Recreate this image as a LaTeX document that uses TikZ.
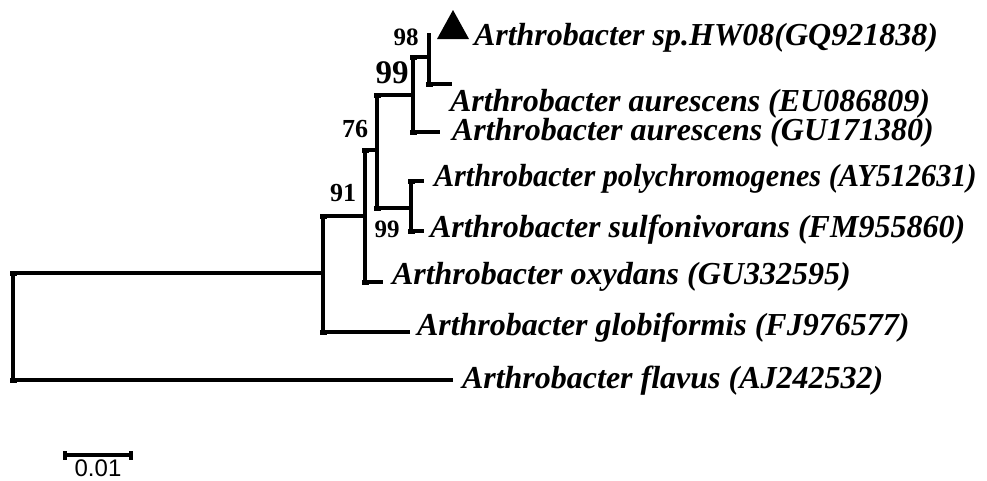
\documentclass[tikz,border=0pt]{standalone}
\usepackage{fontspec}
\setmainfont{Liberation Serif}
\newfontfamily\scalefont{Liberation Sans}
\definecolor{treeink}{RGB}{0, 0, 0}

\begin{document}
\begin{tikzpicture}[x=1pt, y=-1pt, line width=4pt, draw=treeink,
    taxon/.style={anchor=base west, inner sep=0pt,
      font=\fontsize{32}{36}\selectfont\bfseries\itshape},
    boot/.style={inner sep=0pt, font=\fontsize{25}{28}\selectfont\bfseries}]
        \useasboundingbox (0,0) rectangle (987,480);

        % verticals of the tree
        \coordinate (R1) at (13,273);
        \coordinate (R2) at (13,380);
        \coordinate (B1) at (323,216);
        \coordinate (B0) at (323,273);
        \coordinate (B2) at (323,332);
        \coordinate (C1) at (365,150);
        \coordinate (C0) at (365,216);
        \coordinate (C2) at (365,282);
        \coordinate (D1) at (377,95);
        \coordinate (D0) at (377,150);
        \coordinate (D2) at (377,208);
        \coordinate (E1) at (413,57);
        \coordinate (E0) at (413,95);
        \coordinate (E2) at (413,132);
        \coordinate (F1) at (429,33);
        \coordinate (F0) at (429,57);
        \coordinate (F2) at (429,84);
        \coordinate (G1) at (411,181);
        \coordinate (G0) at (411,208);
        \coordinate (G2) at (411,231);

        % leaf ends
        \coordinate (L1) at (452,84);
        \coordinate (L2) at (440,132);
        \coordinate (L3) at (424,181);
        \coordinate (L4) at (424,231);
        \coordinate (L5) at (383,282);
        \coordinate (L6) at (410,332);
        \coordinate (L7) at (453,380);

        \draw (R1)--(R2);
        \draw (B1)--(B2);
        \draw (C1)--(C2);
        \draw (D1)--(D2);
        \draw (E1)--(E2);
        \draw (F1)--(F2);
        \draw (G1)--(G2);

        \draw (R1)--(B0);
        \draw (B1)--(C0);
        \draw (C1)--(D0);
        \draw (D1)--(E0);
        \draw (D2)--(G0);
        \draw (E1)--(F0);

        \draw (F2)--(L1);
        \draw (E2)--(L2);
        \draw (G1)--(L3);
        \draw (G2)--(L4);
        \draw (C2)--(L5);
        \draw (B2)--(L6);
        \draw (R2)--(L7);

        \foreach \p in {R1,R2,B1,B2,C1,C2,D1,D2,E1,E2,F2,G1,G2}
          \fill[treeink] (\p) ++(-3.5,-2.5) rectangle ++(7,5);

        % marked strain
        \coordinate (T1) at (437,39);
        \coordinate (T2) at (469,39);
        \coordinate (T3) at (453,10);
        \fill[treeink] (T1)--(T2)--(T3)--cycle;

        \node[taxon] (hw08) at (472,45) {Arthrobacter sp.HW08(GQ921838)};
        \node[taxon] (aur1) at (448,111) {Arthrobacter aurescens (EU086809)};
        \node[taxon] (aur2) at (450,140) {Arthrobacter aurescens (GU171380)};
        \node[taxon] (poly) at (432,186)
          {\scalebox{0.945}[1]{Arthrobacter polychromogenes (AY512631)}};
        \node[taxon] (sulf) at (428,237) {Arthrobacter sulfonivorans (FM955860)};
        \node[taxon] (oxy) at (390,284) {Arthrobacter oxydans (GU332595)};
        \node[taxon] (glob) at (415,335) {Arthrobacter globiformis (FJ976577)};
        \node[taxon] (flav) at (460,388) {Arthrobacter flavus (AJ242532)};

        % bootstrap values
        \node[boot] (b98) at (406,37) {98};
        \node[boot, font=\fontsize{33}{36}\selectfont\bfseries] (b99a) at (392,73) {99};
        \node[boot, font=\fontsize{26}{28}\selectfont\bfseries] (b76) at (355,129) {76};
        \node[boot, font=\fontsize{26}{28}\selectfont\bfseries] (b91) at (343,193) {91};
        \node[boot] (b99b) at (387,229) {99};

        % scale bar
        \coordinate (S1) at (65,455);
        \coordinate (S2) at (131,455);
        \draw (S1)--(S2);
        \fill[treeink] (S1) ++(-2,-4.5) rectangle ++(4,9);
        \fill[treeink] (S2) ++(-2,-4.5) rectangle ++(4,9);
        \node[anchor=north, inner sep=0pt, font=\fontsize{24}{26}\scalefont] (bar) at (98,458) {0.01};
      \end{tikzpicture}
\end{document}
